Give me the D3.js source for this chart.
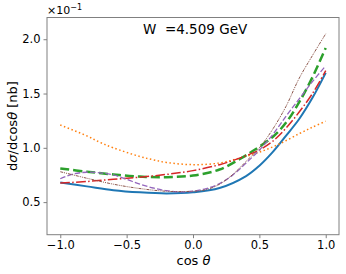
<!DOCTYPE html>
<html><head><meta charset="utf-8">
<script src="https://cdn.jsdelivr.net/npm/d3@7"></script>
<style>body{margin:0;background:#fff}svg{display:block}text{font-family:"DejaVu Sans",sans-serif}</style>
</head><body>
<svg id="c" width="346" height="274"></svg>
<script>
const xTicks = [-1.0, -0.5, 0.0, 0.5, 1.0];
const xTickLabels = ["\u22121.0", "\u22120.5", "0.0", "0.5", "1.0"];
const yTicks = [0.5, 1.0, 1.5, 2.0];
const yTickLabels = ["0.5", "1.0", "1.5", "2.0"];
const titleText = "W  =4.509 GeV";

const blueX   = [-1.0,-0.8,-0.6,-0.4,-0.2,0.0,0.2,0.4,0.5,0.6,0.7,0.8,0.9,1.0];
const blueY   = [0.68,0.645,0.61,0.59,0.58,0.59,0.63,0.74,0.835,0.96,1.11,1.265,1.46,1.69];
const orangeX = [-1.0,-0.8,-0.7,-0.6,-0.4,-0.3,-0.2,0.0,0.2,0.35,0.5,0.65,0.8,0.9,1.0];
const orangeY = [1.21,1.11,1.05,1.0,0.92,0.89,0.865,0.845,0.86,0.905,0.96,1.035,1.13,1.19,1.245];
const greenX  = [-1.0,-0.8,-0.6,-0.4,-0.2,0.0,0.2,0.35,0.45,0.6,0.7,0.8,0.9,1.0];
const greenY  = [0.81,0.78,0.755,0.735,0.73,0.745,0.8,0.895,0.97,1.1,1.23,1.42,1.65,1.92];
const redX    = [-1.0,-0.8,-0.6,-0.4,-0.2,0.0,0.2,0.35,0.5,0.6,0.7,0.8,0.9,1.0];
const redY    = [0.675,0.69,0.71,0.73,0.755,0.79,0.845,0.905,0.98,1.06,1.18,1.33,1.50,1.71];
const purpleX = [-1.0,-0.9,-0.8,-0.7,-0.6,-0.5,-0.4,-0.3,-0.2,-0.1,0.0,0.1,0.2,0.3,0.4,0.5,0.6,0.7,0.8,0.9,1.0];
const purpleY = [0.715,0.76,0.775,0.77,0.75,0.71,0.665,0.63,0.605,0.595,0.6,0.625,0.67,0.75,0.86,0.98,1.12,1.29,1.45,1.61,1.755];
const brownX  = [-1.0,-0.8,-0.6,-0.4,-0.2,0.0,0.1,0.2,0.3,0.4,0.5,0.6,0.7,0.8,0.9,1.0];
const brownY  = [0.78,0.72,0.665,0.625,0.6,0.6,0.615,0.665,0.755,0.875,1.0,1.17,1.38,1.64,1.85,2.05];

const series = [
  {x: blueX,   y: blueY,   color: "#1f77b4", w: 2.0, dash: null},
  {x: orangeX, y: orangeY, color: "#ff7f0e", w: 1.5, dash: "1.5,2.5"},
  {x: greenX,  y: greenY,  color: "#2ca02c", w: 2.5, dash: "9,4"},
  {x: redX,    y: redY,    color: "#d62728", w: 1.5, dash: "9.6,2.4,1.5,2.4"},
  {x: purpleX, y: purpleY, color: "#9467bd", w: 1.3, dash: "5.5,2.2"},
  {x: brownX,  y: brownY,  color: "#8c564b", w: 1.0, dash: "3,1,1,1,1,1"}
];

const svg = d3.select("#c");
const L = 47, R = 339, T = 17.5, B = 234.7;
const x = d3.scaleLinear().domain([-1.1, 1.1]).range([L, R]);
const y = d3.scaleLinear().domain([0.2, 2.2]).range([B, T]);

const g = svg.append("g");
const line = d3.line().x(d => x(d[0])).y(d => y(d[1])).curve(d3.curveCatmullRom.alpha(0.5));
g.append("clipPath").attr("id","clip").append("rect").attr("x",L).attr("y",T).attr("width",R-L).attr("height",B-T);
series.forEach(s => {
  const pts = s.x.map((v,i) => [v, s.y[i]]);
  g.append("path").attr("d", line(pts)).attr("fill","none")
   .attr("stroke", s.color).attr("stroke-width", s.w)
   .attr("stroke-dasharray", s.dash).attr("clip-path","url(#clip)");
});

const spine = "#808080";
svg.append("rect").attr("x",L).attr("y",T).attr("width",R-L).attr("height",B-T)
  .attr("fill","none").attr("stroke",spine).attr("stroke-width",1);

const xa = svg.append("g").attr("transform",`translate(0,${B})`)
  .call(d3.axisBottom(x).tickValues(xTicks).tickFormat((d,i)=>xTickLabels[i]).tickSize(3.5).tickPadding(3));
const ya = svg.append("g").attr("transform",`translate(${L},0)`)
  .call(d3.axisLeft(y).tickValues(yTicks).tickFormat((d,i)=>yTickLabels[i]).tickSize(3.5).tickPadding(3));
[xa, ya].forEach(a => {
  a.select(".domain").remove();
  a.selectAll(".tick line").attr("stroke", spine);
  a.selectAll(".tick text").attr("font-size", 11.5).attr("fill","#000").attr("font-family","DejaVu Sans");
});

const xl = svg.append("text").attr("x", 193.5).attr("y", 265).attr("text-anchor","middle").attr("font-size", 13);
xl.append("tspan").text("cos ");
xl.append("tspan").attr("font-style","italic").text("\u03b8");
const yl = svg.append("text").attr("transform","translate(17,126) rotate(-90)").attr("text-anchor","middle").attr("font-size", 13);
yl.append("tspan").text("d");
yl.append("tspan").attr("font-style","italic").text("\u03c3");
yl.append("tspan").text("/dcos");
yl.append("tspan").attr("font-style","italic").text("\u03b8");
yl.append("tspan").text(" [nb]");
svg.append("text").attr("x", 143).attr("y", 34).attr("font-size", 13.5).attr("xml:space","preserve")
  .style("white-space","pre").text(titleText);
const off = svg.append("text").attr("x", 47).attr("y", 14).attr("font-size", 11);
off.append("tspan").text("\u00d710");
off.append("tspan").attr("dy", -4.5).attr("font-size", 8).text("\u22121");
</script>
</body></html>
